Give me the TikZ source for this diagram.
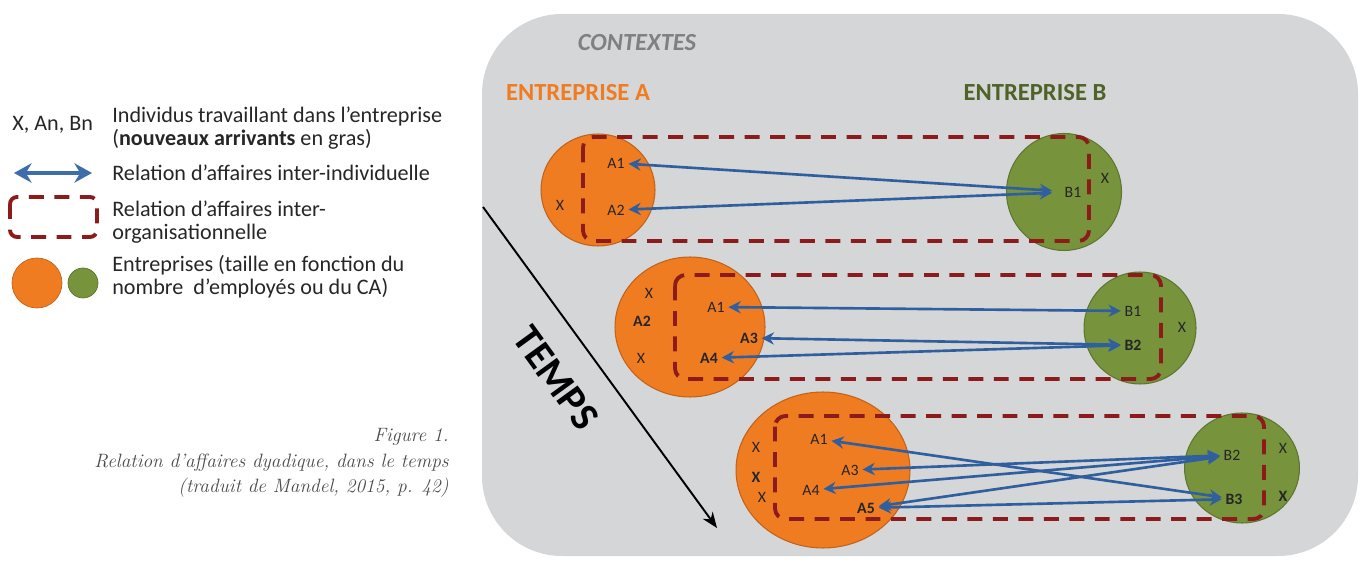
\documentclass[tikz,border=0pt]{standalone}
\usepackage{fontspec}
\setsansfont{Carlito}
\usetikzlibrary{arrows.meta,shapes.geometric}
\definecolor{orangeA}{HTML}{F07C22}
\definecolor{greenB}{HTML}{77933C}
\definecolor{ctxgray}{HTML}{D5D6D8}
\definecolor{relred}{HTML}{8C1C1C}
\definecolor{relblue}{HTML}{2F5F9E}
\definecolor{legblue}{HTML}{3D6DAA}
\definecolor{titlegreen}{HTML}{4F6228}
\definecolor{captiongray}{HTML}{4A4A4A}

\begin{document}
\begin{tikzpicture}[x=0.02cm,y=-0.02cm,font=\sffamily,
    firmA/.style={ellipse,fill=orangeA,draw=orangeA!80!black,line width=0.6pt},
    firmB/.style={ellipse,fill=greenB,draw=greenB!80!black,line width=0.6pt},
    who/.style={inner sep=2pt,text=black!85,font=\sffamily\fontsize{9}{10}\selectfont},
    newbie/.style={who,font=\sffamily\bfseries\fontsize{9}{10}\selectfont},
    rel/.style={draw=relblue,line width=1.5pt,{Stealth[length=7pt,width=7pt]}-{Stealth[length=7pt,width=7pt]}},
    orgrel/.style={draw=relred,line width=2.2pt,dash pattern=on 8.5pt off 6pt,rounded corners=6pt},
    legtext/.style={anchor=west,align=left,inner sep=0pt,text=black!85,font=\sffamily\fontsize{12.6}{13.2}\selectfont},
    heading/.style={font=\sffamily\bfseries\fontsize{14}{16}\selectfont}]
\useasboundingbox (0,0) rectangle (1361,570);

% legend
\node[legtext] (lgwho) at (12,125) {X, An, Bn};
\node[legtext] (lgwhotxt) at (112,128) {Individus travaillant dans l’entreprise\\(\textbf{nouveaux arrivants} en gras)};
\coordinate (lg0) at (14,173);
\coordinate (lg1) at (92,173);
\draw[draw=legblue,line width=2pt,{Stealth[length=10pt,width=11pt]}-{Stealth[length=10pt,width=11pt]}] (lg0) -- (lg1);
\node[legtext] (lgreltxt) at (112,173) {Relation d’affaires inter-individuelle};
\draw[orgrel,rounded corners=4pt] (10,197) rectangle (97,237);
\node[legtext] (lgorgtxt) at (112,222) {Relation d’affaires inter-\\organisationnelle};
\node[circle,fill=orangeA,draw=orangeA!80!black,minimum size=1cm,inner sep=0pt] (lgA) at (37,283) {};
\node[circle,fill=greenB,draw=greenB!80!black,minimum size=0.6cm,inner sep=0pt] (lgB) at (83,283) {};
\node[legtext] (lgfirmtxt) at (112,277) {Entreprises (taille en fonction du\\nombre \ d’employés ou du CA)};

% caption
\node[anchor=east,align=right,inner sep=0pt,text=captiongray,
  font=\rmfamily\itshape\fontsize{11}{14.7}\selectfont] (caption) at (449,463)
  {Figure 1.\\Relation d’affaires dyadique, dans le temps\\(traduit de Mandel, 2015, p. 42)};

% contexts
\fill[ctxgray,rounded corners=1.6cm] (482,14) rectangle (1358,556);
\node[heading,font=\sffamily\bfseries\itshape\fontsize{14}{16}\selectfont,text=black!50] (ctx) at (637,43) {CONTEXTES};
\node[heading,text=orangeA] (entA) at (578,93) {ENTREPRISE A};
\node[heading,text=titlegreen] (entB) at (1035,93) {ENTREPRISE B};

% time
\coordinate (t0) at (483,207);
\coordinate (t1) at (717,528);
\draw[line width=1.1pt,-{Stealth[length=9pt,width=7pt]}] (t0) -- (t1);
\node[rotate=-54,font=\sffamily\bfseries\fontsize{23}{25}\selectfont] (temps) at (556,378) {TEMPS};

% first period
\node[firmA,minimum width=2.28cm,minimum height=2.24cm] (r1A) at (598,190) {};
\node[firmB,minimum width=2.3cm,minimum height=2.34cm] (r1B) at (1064,192) {};
\draw[orgrel] (583,137) rectangle (1089,241);
\node[who] (r1x) at (560,205) {X};
\node[who] (r1a1) at (616,163) {A1};
\node[who] (r1a2) at (616,210) {A2};
\node[who] (r1b1) at (1073,192) {B1};
\node[who] (r1y) at (1105,178) {X};
\draw[rel,shorten >=5pt] (r1a1) -- (r1b1);
\draw[rel,shorten >=5pt] (r1a2) -- (r1b1);

% second period
\node[firmA,minimum width=3cm,minimum height=2.8cm] (r2A) at (690,327) {};
\node[firmB,minimum width=2.24cm,minimum height=2.24cm] (r2B) at (1140,328) {};
\draw[orgrel] (675,275) rectangle (1161,379);
\node[who] (r2x1) at (649,293) {X};
\node[newbie] (r2a2) at (642,321) {A2};
\node[who] (r2x2) at (641,358) {X};
\node[who] (r2a1) at (716,307) {A1};
\node[newbie] (r2a3) at (749,338) {A3};
\node[newbie] (r2a4) at (709,358) {A4};
\node[who] (r2b1) at (1133,311) {B1};
\node[newbie] (r2b2) at (1133,345) {B2};
\node[who] (r2x3) at (1182,327) {X};
\draw[rel] (r2a1) -- (r2b1);
\draw[rel] (r2a3) -- (r2b2);
\draw[rel] (r2a4) -- (r2b2);

% third period
\node[firmA,minimum width=3.48cm,minimum height=3.12cm] (r3A) at (823,470) {};
\node[firmB,minimum width=2.3cm,minimum height=2.2cm] (r3B) at (1242,468) {};
\draw[orgrel] (775,416) rectangle (1264,519);
\node[who] (r3x1) at (756,447) {X};
\node[newbie] (r3x2) at (756,477) {X};
\node[who] (r3x3) at (762,497) {X};
\node[who] (r3a1) at (819,439) {A1};
\node[who] (r3a3) at (850,470) {A3};
\node[who] (r3a4) at (811,490) {A4};
\node[newbie] (r3a5) at (866,508) {A5};
\node[who] (r3b2) at (1232,455) {B2};
\node[newbie] (r3b3) at (1234,499) {B3};
\node[who] (r3x4) at (1283,448) {X};
\node[newbie] (r3x5) at (1283,496) {X};
\draw[rel] (r3a1) -- (r3b3);
\draw[rel] (r3a3) -- (r3b2);
\draw[rel] (r3a4) -- (r3b2);
\draw[rel] (r3a5) -- (r3b2);
\draw[rel] (r3a5) -- (r3b3);
\end{tikzpicture}
\end{document}
